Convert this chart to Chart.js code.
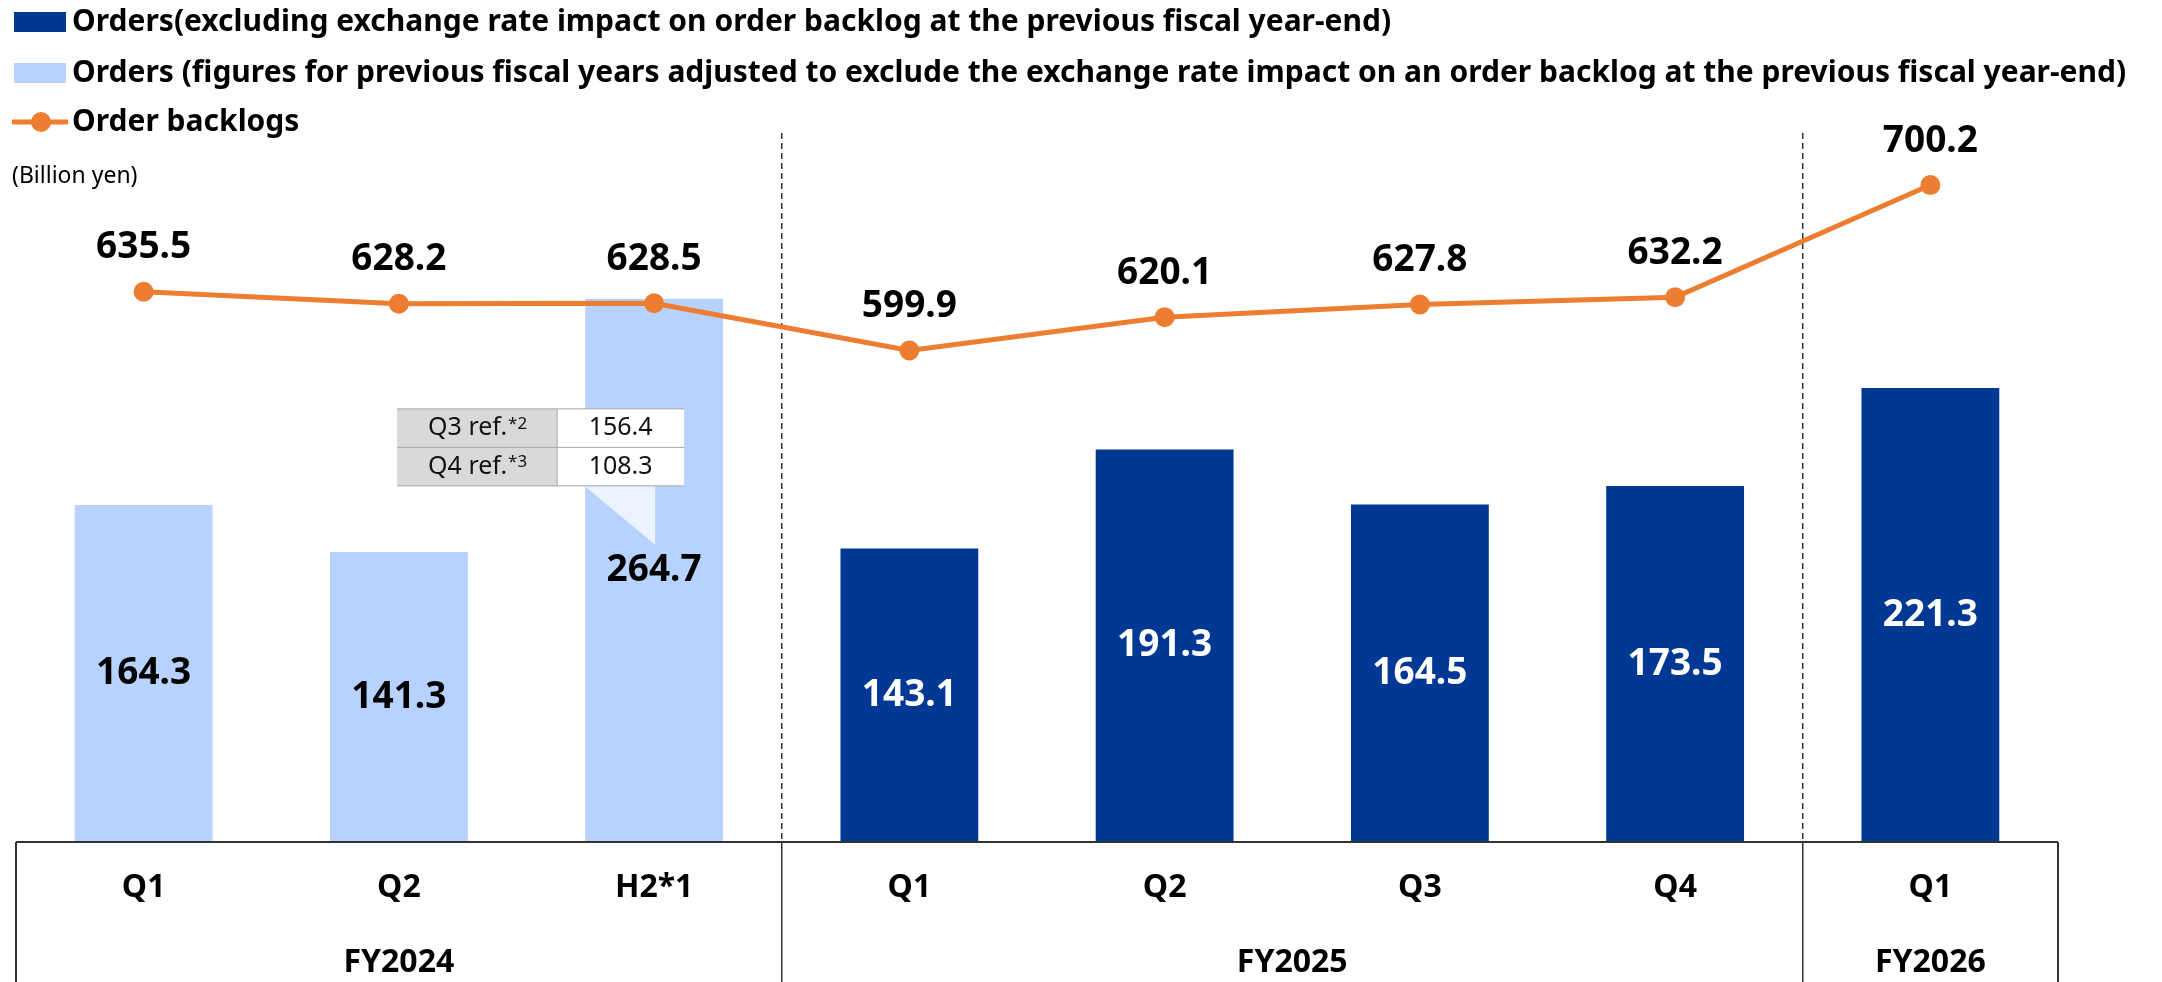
<!DOCTYPE html>
<html>
<head>
<meta charset="utf-8">
<script src="https://cdn.jsdelivr.net/npm/chart.js@4.4.0/dist/chart.umd.min.js"></script>
<style>
  html, body { margin: 0; padding: 0; background: #fff; }
  #wrap { width: 2162px; height: 982px; position: relative; }
</style>
</head>
<body>
<div id="wrap"><canvas id="mainChart"></canvas></div>
<script>
// chart values
var categories = ["Q1", "Q2", "H2*1", "Q1", "Q2", "Q3", "Q4", "Q1"];
var fiscalYears = ["FY2024", "FY2025", "FY2026"];
var fiscalYearFirst = [0, 3, 7];
var fiscalYearLast = [2, 6, 7];
var ordersExcluding = [null, null, null, 143.1, 191.3, 164.5, 173.5, 221.3];
var ordersAdjusted = [164.3, 141.3, 264.7, null, null, null, null, null];
var orderBacklogs = [635.5, 628.2, 628.5, 599.9, 620.1, 627.8, 632.2, 700.2];
var refLabels = ["Q3 ref.", "Q4 ref."];
var refNotes = ["*2", "*3"];
var refValues = [156.4, 108.3];

var FONT = '"Noto Sans", "Open Sans", sans-serif';
var DARK = "#003894";
var LIGHT = "#B7D2FE";
var ORANGE = "#ED7D31";

// legend drawn as three rows, like the original slide
var rowLegend = {
  id: "rowLegend",
  afterDraw: function(chart) {
    var ctx = chart.ctx;
    var rows = [22, 73, 122];
    ctx.save();
    chart.data.datasets.forEach(function(ds, i) {
      var y = rows[i];
      if (ds.type === "line") {
        ctx.strokeStyle = ds.borderColor;
        ctx.lineWidth = 5;
        ctx.beginPath();
        ctx.moveTo(12, y);
        ctx.lineTo(68, y);
        ctx.stroke();
        ctx.fillStyle = ds.borderColor;
        ctx.beginPath();
        ctx.arc(41, y, 10, 0, Math.PI * 2);
        ctx.fill();
      } else {
        ctx.fillStyle = ds.backgroundColor;
        ctx.fillRect(14, y - 10, 52, 20);
      }
      ctx.fillStyle = "#000";
      ctx.font = "bold 30px " + FONT;
      ctx.textAlign = "left";
      ctx.textBaseline = "middle";
      ctx.fillText(ds.label, 72, y);
    });
    ctx.font = "23px " + FONT;
    ctx.fillText("(Billion yen)", 12, 176);
    ctx.restore();
  }
};

// dashed separators between fiscal years, and the category table below the axis
var yearTable = {
  id: "yearTable",
  beforeDatasetsDraw: function(chart) {
    var ctx = chart.ctx, x = chart.scales.x, area = chart.chartArea;
    ctx.save();
    ctx.strokeStyle = "#333";
    ctx.lineWidth = 1.5;
    ctx.setLineDash([6, 4]);
    for (var i = 0; i < fiscalYearLast.length - 1; i++) {
      var sx = (x.getPixelForValue(fiscalYearLast[i]) + x.getPixelForValue(fiscalYearLast[i] + 1)) / 2;
      ctx.beginPath();
      ctx.moveTo(sx, area.top + 3);
      ctx.lineTo(sx, area.bottom);
      ctx.stroke();
    }
    ctx.restore();
  },
  afterDraw: function(chart) {
    var ctx = chart.ctx, x = chart.scales.x, area = chart.chartArea;
    var bottom = chart.height;
    ctx.save();
    ctx.strokeStyle = "#333";
    ctx.lineWidth = 2;
    ctx.beginPath();
    ctx.moveTo(area.left, area.bottom);
    ctx.lineTo(area.right, area.bottom);
    ctx.moveTo(area.left, area.bottom);
    ctx.lineTo(area.left, bottom);
    ctx.moveTo(area.right, area.bottom);
    ctx.lineTo(area.right, bottom);
    ctx.stroke();
    ctx.lineWidth = 1.5;
    for (var i = 0; i < fiscalYearLast.length - 1; i++) {
      var sx = (x.getPixelForValue(fiscalYearLast[i]) + x.getPixelForValue(fiscalYearLast[i] + 1)) / 2;
      ctx.beginPath();
      ctx.moveTo(sx, area.bottom);
      ctx.lineTo(sx, bottom);
      ctx.stroke();
    }
    ctx.fillStyle = "#000";
    ctx.font = "bold 32px " + FONT;
    ctx.textAlign = "center";
    ctx.textBaseline = "middle";
    fiscalYears.forEach(function(fy, i) {
      var cx = (x.getPixelForValue(fiscalYearFirst[i]) + x.getPixelForValue(fiscalYearLast[i])) / 2;
      ctx.fillText(fy, cx, area.bottom + 121);
    });
    ctx.restore();
  }
};

// value labels plus the H2 callout with the quarterly reference figures
var valueLabels = {
  id: "valueLabels",
  afterDatasetsDraw: function(chart) {
    var ctx = chart.ctx;
    ctx.save();

    // callout next to the H2*1 bar
    var bar = chart.getDatasetMeta(1).data[2];
    var left = bar.x - 257, split = bar.x - 97, right = bar.x + 30;
    var top = bar.y + 110, rowH = 38.5;
    var bottom = top + rowH * refLabels.length;
    ctx.fillStyle = "rgba(255,255,255,0.72)";
    ctx.beginPath();
    ctx.moveTo(bar.x - 70, bottom);
    ctx.lineTo(bar.x + 1, bottom);
    ctx.lineTo(bar.x + 1, bottom + 59);
    ctx.closePath();
    ctx.fill();
    ctx.fillStyle = "#D9D9D9";
    ctx.fillRect(left, top, split - left, bottom - top);
    ctx.fillStyle = "#fff";
    ctx.fillRect(split, top, right - split, bottom - top);
    ctx.strokeStyle = "#A6A6A6";
    ctx.lineWidth = 1;
    ctx.beginPath();
    for (var r = 0; r <= refLabels.length; r++) {
      ctx.moveTo(left, top + r * rowH);
      ctx.lineTo(right, top + r * rowH);
    }
    ctx.moveTo(split, top);
    ctx.lineTo(split, bottom);
    ctx.stroke();
    ctx.textBaseline = "middle";
    refLabels.forEach(function(lbl, r) {
      var cy = top + r * rowH + rowH / 2;
      ctx.font = "25px " + FONT;
      var w1 = ctx.measureText(lbl).width;
      ctx.font = "17px " + FONT;
      var w2 = ctx.measureText(refNotes[r]).width;
      var sx = (left + split) / 2 - (w1 + w2) / 2;
      ctx.fillStyle = "#111";
      ctx.textAlign = "left";
      ctx.font = "25px " + FONT;
      ctx.fillText(lbl, sx, cy);
      ctx.font = "17px " + FONT;
      ctx.fillText(refNotes[r], sx + w1 + 1, cy - 4);
      ctx.font = "25px " + FONT;
      ctx.textAlign = "center";
      ctx.fillText(refValues[r].toFixed(1), (split + right) / 2, cy);
    });

    // data labels
    ctx.font = "bold 37px " + FONT;
    ctx.textAlign = "center";
    ctx.textBaseline = "middle";
    chart.data.datasets.forEach(function(ds, i) {
      var meta = chart.getDatasetMeta(i);
      meta.data.forEach(function(el, j) {
        var v = ds.data[j];
        if (v === null) return;
        if (ds.type === "line") {
          ctx.fillStyle = "#000";
          ctx.fillText(v.toFixed(1), el.x, el.y - 44);
        } else {
          ctx.fillStyle = ds.backgroundColor === DARK ? "#fff" : "#000";
          ctx.fillText(v.toFixed(1), el.x, (el.y + el.base) / 2);
        }
      });
    });
    ctx.restore();
  }
};

var data = {
  labels: categories,
  datasets: [{
    type: "bar",
    label: "Orders(excluding exchange rate impact on order backlog at the previous fiscal year-end)",
    data: ordersExcluding,
    backgroundColor: DARK,
    yAxisID: "y",
    grouped: false,
    order: 2
  }, {
    type: "bar",
    label: "Orders (figures for previous fiscal years adjusted to exclude the exchange rate impact on an order backlog at the previous fiscal year-end)",
    data: ordersAdjusted,
    backgroundColor: LIGHT,
    yAxisID: "y",
    grouped: false,
    order: 2
  }, {
    type: "line",
    label: "Order backlogs",
    data: orderBacklogs,
    borderColor: ORANGE,
    backgroundColor: ORANGE,
    borderWidth: 5,
    pointRadius: 10,
    pointHoverRadius: 10,
    pointBorderWidth: 0,
    pointBackgroundColor: ORANGE,
    yAxisID: "y2",
    order: 0
  }]
};

var options = {
  responsive: true,
  maintainAspectRatio: false,
  animation: false,
  datasets: {
    bar: { categoryPercentage: 1, barPercentage: 0.54 }
  },
  layout: { padding: { left: 16, right: 104, top: 130, bottom: 0 } },
  plugins: {
    legend: { display: false },
    tooltip: { enabled: false }
  },
  scales: {
    x: {
      grid: { display: false, drawTicks: false },
      border: { display: false },
      ticks: {
        color: "#000",
        font: { family: FONT, size: 32, weight: "bold" },
        padding: 27,
        autoSkip: false,
        maxRotation: 0
      },
      afterFit: function(scale) { scale.height = 140; }
    },
    y: { display: false, min: 0, max: 347 },
    y2: { display: false, min: 301.8, max: 733.6 }
  }
};

var ctx = document.getElementById("mainChart");
new Chart(ctx, {
  type: "bar",
  data: data,
  options: options,
  plugins: [rowLegend, yearTable, valueLabels]
});
</script>
</body>
</html>
